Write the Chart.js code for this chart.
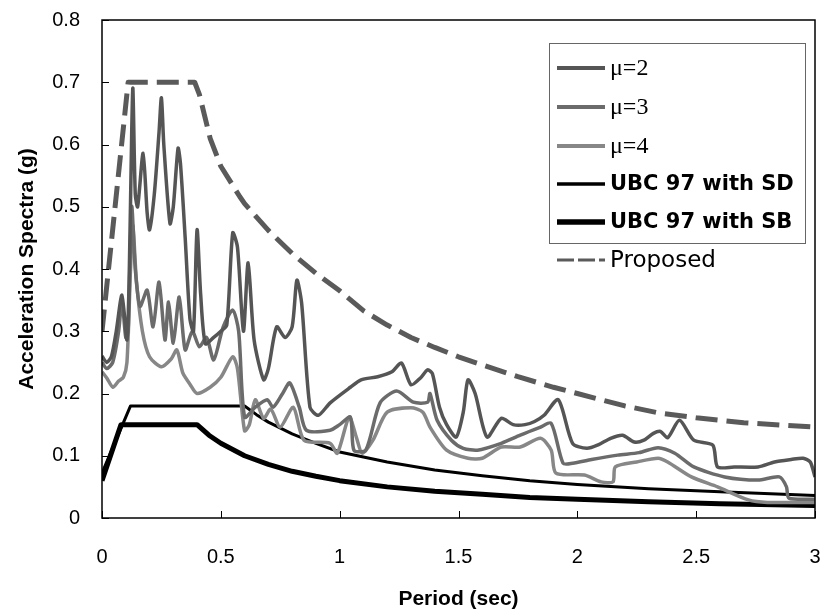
<!DOCTYPE html>
<html>
<head>
<meta charset="utf-8">
<title>Acceleration Spectra</title>
<script src="https://cdn.jsdelivr.net/npm/chart.js@4.4.1/dist/chart.umd.min.js"></script>
<style>
  html, body { margin: 0; padding: 0; background: #fff; }
  canvas { display: block; }
</style>
</head>
<body>
<canvas id="grafico" width="822" height="612"></canvas>
<script>
// values: period (sec) and acceleration (g)
const mu2Period = [0, 0.02, 0.04, 0.06, 0.084, 0.105, 0.115, 0.125, 0.13, 0.14, 0.15, 0.173, 0.19, 0.2, 0.22, 0.24, 0.25, 0.26, 0.286, 0.3, 0.32, 0.33, 0.35, 0.37, 0.385, 0.4, 0.415, 0.435, 0.47, 0.5, 0.525, 0.55, 0.57, 0.595, 0.615, 0.64, 0.68, 0.7, 0.735, 0.77, 0.8, 0.82, 0.84, 0.875, 0.91, 0.96, 1.045, 1.09, 1.16, 1.22, 1.26, 1.3, 1.34, 1.37, 1.39, 1.42, 1.45, 1.49, 1.52, 1.54, 1.57, 1.62, 1.68, 1.73, 1.78, 1.82, 1.86, 1.92, 1.98, 2.04, 2.09, 2.14, 2.19, 2.24, 2.28, 2.32, 2.35, 2.38, 2.43, 2.49, 2.57, 2.59, 2.66, 2.76, 2.83, 2.9, 2.95, 2.98, 3.0];
const mu2Accel = [0.26, 0.25, 0.26, 0.3, 0.358, 0.286, 0.4, 0.62, 0.69, 0.52, 0.5, 0.586, 0.49, 0.463, 0.52, 0.62, 0.675, 0.6, 0.473, 0.5, 0.594, 0.57, 0.45, 0.32, 0.3, 0.463, 0.36, 0.28, 0.29, 0.3, 0.31, 0.458, 0.435, 0.3, 0.41, 0.286, 0.222, 0.24, 0.307, 0.29, 0.307, 0.382, 0.345, 0.178, 0.165, 0.185, 0.21, 0.222, 0.227, 0.235, 0.249, 0.214, 0.225, 0.238, 0.232, 0.178, 0.15, 0.13, 0.17, 0.222, 0.2, 0.13, 0.16, 0.15, 0.15, 0.155, 0.165, 0.19, 0.12, 0.112, 0.118, 0.128, 0.133, 0.122, 0.125, 0.136, 0.139, 0.129, 0.157, 0.125, 0.117, 0.082, 0.082, 0.082, 0.09, 0.094, 0.096, 0.09, 0.066];

const mu3Period = [0, 0.02, 0.045, 0.07, 0.084, 0.1, 0.11, 0.125, 0.14, 0.16, 0.19, 0.215, 0.24, 0.265, 0.28, 0.3, 0.325, 0.35, 0.38, 0.41, 0.44, 0.47, 0.51, 0.55, 0.575, 0.6, 0.645, 0.695, 0.72, 0.76, 0.79, 0.83, 0.86, 0.96, 1.0, 1.045, 1.06, 1.11, 1.17, 1.24, 1.31, 1.37, 1.38, 1.41, 1.47, 1.52, 1.58, 1.68, 1.76, 1.84, 1.89, 1.94, 1.98, 2.06, 2.17, 2.26, 2.34, 2.41, 2.49, 2.62, 2.76, 2.85, 2.88, 2.89, 3.0];
const mu3Accel = [0.25, 0.24, 0.25, 0.3, 0.35, 0.29, 0.3, 0.5, 0.4, 0.34, 0.366, 0.307, 0.379, 0.286, 0.347, 0.281, 0.355, 0.27, 0.3, 0.275, 0.29, 0.254, 0.307, 0.334, 0.3, 0.162, 0.178, 0.19, 0.178, 0.2, 0.217, 0.178, 0.141, 0.141, 0.15, 0.162, 0.109, 0.109, 0.185, 0.204, 0.186, 0.186, 0.2, 0.157, 0.125, 0.112, 0.109, 0.12, 0.133, 0.145, 0.152, 0.088, 0.088, 0.094, 0.101, 0.105, 0.113, 0.104, 0.082, 0.066, 0.061, 0.066, 0.05, 0.032, 0.03];

const mu4Period = [0, 0.02, 0.046, 0.07, 0.09, 0.105, 0.12, 0.13, 0.145, 0.17, 0.2, 0.25, 0.29, 0.315, 0.34, 0.37, 0.4, 0.455, 0.5, 0.55, 0.57, 0.6, 0.62, 0.645, 0.68, 0.71, 0.75, 0.805, 0.85, 0.96, 0.99, 1.04, 1.07, 1.095, 1.14, 1.2, 1.3, 1.35, 1.38, 1.45, 1.54, 1.6, 1.68, 1.76, 1.845, 1.89, 1.91, 2.03, 2.1, 2.15, 2.16, 2.25, 2.34, 2.38, 2.48, 2.59, 2.72, 2.8, 3.0];
const mu4Accel = [0.235, 0.225, 0.21, 0.22, 0.226, 0.25, 0.4, 0.47, 0.38, 0.3, 0.259, 0.243, 0.255, 0.27, 0.233, 0.215, 0.2, 0.21, 0.226, 0.259, 0.24, 0.14, 0.15, 0.19, 0.16, 0.175, 0.146, 0.178, 0.125, 0.12, 0.104, 0.162, 0.13, 0.104, 0.125, 0.17, 0.177, 0.17, 0.146, 0.109, 0.096, 0.096, 0.114, 0.114, 0.128, 0.109, 0.072, 0.069, 0.058, 0.058, 0.082, 0.09, 0.096, 0.09, 0.066, 0.05, 0.029, 0.025, 0.025];

const sdPeriod = [0, 0.12, 0.6, 0.65, 0.7, 0.8, 0.9, 1.0, 1.1, 1.2, 1.4, 1.6, 1.8, 2.0, 2.3, 2.6, 3.0];
const sdAccel = [0.072, 0.18, 0.18, 0.166, 0.154, 0.135, 0.12, 0.106, 0.098, 0.09, 0.077, 0.068, 0.06, 0.054, 0.047, 0.042, 0.036];

const sbPeriod = [0, 0.08, 0.4, 0.45, 0.5, 0.6, 0.7, 0.8, 0.9, 1.0, 1.2, 1.4, 1.6, 1.8, 2.0, 2.3, 2.6, 3.0];
const sbAccel = [0.06, 0.15, 0.15, 0.133, 0.12, 0.1, 0.086, 0.075, 0.067, 0.06, 0.05, 0.043, 0.038, 0.033, 0.03, 0.026, 0.023, 0.02];

const propPeriod = [0, 0.11, 0.39, 0.41, 0.455, 0.5, 0.58, 0.6, 0.7, 0.8, 0.9, 1.0, 1.1, 1.2, 1.3, 1.4, 1.5, 1.6, 1.75, 1.9, 2.0, 2.2, 2.34, 2.5, 2.7, 3.0];
const propAccel = [0.3, 0.7, 0.7, 0.68, 0.61, 0.565, 0.516, 0.505, 0.462, 0.425, 0.393, 0.365, 0.333, 0.31, 0.29, 0.274, 0.259, 0.246, 0.227, 0.21, 0.2, 0.18, 0.169, 0.161, 0.153, 0.146];

const seriesNames = ['\u03bc=2', '\u03bc=3', '\u03bc=4', 'UBC 97 with SD', 'UBC 97 with SB', 'Proposed'];
const xTickLabels = ['0', '0.5', '1', '1.5', '2', '2.5', '3'];
const yTickLabels = ['0', '0.1', '0.2', '0.3', '0.4', '0.5', '0.6', '0.7', '0.8'];

function pares(periodos, valores) {
    return periodos.map((t, i) => ({ x: t, y: valores[i] }));
}

// box around the plot and small inward ticks
const moldura = {
    id: 'moldura',
    afterDatasetsDraw(chart) {
        const { ctx, chartArea: a, scales: { x, y } } = chart;
        ctx.save();
        ctx.strokeStyle = '#000';
        ctx.lineWidth = 1.5;
        ctx.strokeRect(a.left, a.top, a.right - a.left, a.bottom - a.top);
        ctx.lineWidth = 1;
        ctx.beginPath();
        x.ticks.forEach(t => {
            const px = Math.round(x.getPixelForValue(t.value)) + 0.5;
            ctx.moveTo(px, a.bottom);
            ctx.lineTo(px, a.bottom - 7);
        });
        y.ticks.forEach(t => {
            const py = Math.round(y.getPixelForValue(t.value)) + 0.5;
            ctx.moveTo(a.left, py);
            ctx.lineTo(a.left + 7, py);
        });
        ctx.stroke();
        ctx.restore();
    }
};

// legend drawn inside the plot, like in the figure
const legenda = {
    id: 'legenda',
    afterDraw(chart) {
        const ctx = chart.ctx;
        const linhas = [68, 107, 146, 184, 222, 260];
        ctx.save();
        ctx.fillStyle = '#fff';
        ctx.fillRect(549, 43, 256, 200);
        ctx.strokeStyle = '#666';
        ctx.lineWidth = 1;
        ctx.strokeRect(549.5, 43.5, 256, 200);
        chart.data.datasets.forEach((ds, i) => {
            const yy = linhas[i];
            ctx.strokeStyle = ds.borderColor;
            ctx.lineWidth = i === 5 ? 3 : ds.borderWidth + 0.5;
            ctx.setLineDash(i === 5 ? [17, 4] : []);
            ctx.beginPath();
            ctx.moveTo(557, yy);
            ctx.lineTo(605, yy);
            ctx.stroke();
            ctx.setLineDash([]);
            if (ds.label.startsWith('\u03bc')) {
                ctx.font = '24px "Liberation Serif", serif';
            } else if (ds.label.startsWith('UBC')) {
                ctx.font = 'bold 21px "DejaVu Sans", sans-serif';
            } else {
                ctx.font = '23px "DejaVu Sans", sans-serif';
            }
            ctx.fillStyle = '#000';
            ctx.textBaseline = 'middle';
            ctx.textAlign = 'left';
            ctx.fillText(ds.label, 610, yy + 1);
        });
        ctx.restore();
    }
};

const ctx = document.getElementById('grafico').getContext('2d');
new Chart(ctx, {
    type: 'line',
    data: {
        datasets: [
            { label: seriesNames[0], data: pares(mu2Period, mu2Accel), borderColor: '#555555', borderWidth: 3.5 },
            { label: seriesNames[1], data: pares(mu3Period, mu3Accel), borderColor: '#6b6b6b', borderWidth: 3.5 },
            { label: seriesNames[2], data: pares(mu4Period, mu4Accel), borderColor: '#878787', borderWidth: 3.5 },
            { label: seriesNames[3], data: pares(sdPeriod, sdAccel), borderColor: '#000000', borderWidth: 3, tension: 0 },
            { label: seriesNames[4], data: pares(sbPeriod, sbAccel), borderColor: '#000000', borderWidth: 5, tension: 0 },
            { label: seriesNames[5], data: pares(propPeriod, propAccel), borderColor: '#5a5a5a', borderWidth: 5, borderDash: [22, 9], tension: 0 }
        ]
    },
    options: {
        responsive: false,
        animation: false,
        elements: {
            point: { radius: 0 },
            line: { tension: 0.25, fill: false, borderCapStyle: 'butt', borderJoinStyle: 'round' }
        },
        layout: { padding: { top: 20, right: 7, left: 0, bottom: 0 } },
        plugins: {
            legend: { display: false },
            tooltip: { enabled: false }
        },
        scales: {
            x: {
                type: 'linear',
                min: 0,
                max: 3,
                grid: { display: false, drawTicks: false },
                border: { display: false },
                ticks: {
                    stepSize: 0.5,
                    padding: 27,
                    color: '#000',
                    font: { family: '"Liberation Sans", Arial, sans-serif', size: 20 },
                    callback: (v, i) => xTickLabels[i]
                },
                title: {
                    display: true,
                    text: 'Period (sec)',
                    color: '#000',
                    padding: { top: 3, bottom: 0 },
                    font: { family: '"Liberation Sans", Arial, sans-serif', size: 21, weight: 'bold' }
                },
                afterFit: s => {
                    s.height = 94;
                    s.paddingLeft = 0;
                    s.paddingRight = 0;
                }
            },
            y: {
                min: 0,
                max: 0.8,
                grid: { display: false, drawTicks: false },
                border: { display: false },
                ticks: {
                    stepSize: 0.1,
                    padding: 22,
                    color: '#000',
                    font: { family: '"Liberation Sans", Arial, sans-serif', size: 20 },
                    callback: (v, i) => yTickLabels[i]
                },
                title: {
                    display: true,
                    text: 'Acceleration Spectra (g)',
                    color: '#000',
                    padding: { top: 15, bottom: 0 },
                    font: { family: '"Liberation Sans", Arial, sans-serif', size: 21, weight: 'bold' }
                },
                afterFit: s => {
                    s.width = 102;
                    s.paddingTop = 0;
                    s.paddingBottom = 0;
                }
            }
        }
    },
    plugins: [moldura, legenda]
});
</script>
</body>
</html>
